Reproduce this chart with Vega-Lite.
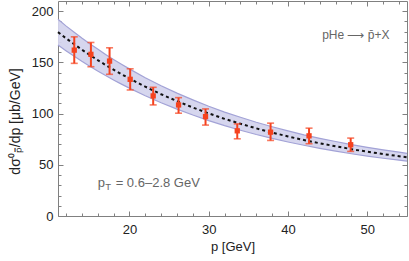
{
  "$schema": "https://vega.github.io/schema/vega-lite/v6.json",
  "width": 349,
  "height": 215,
  "autosize": {"type": "none"},
  "padding": {"left": 58, "top": 1, "right": 2, "bottom": 45},
  "background": "white",
  "config": {
    "view": {"stroke": null},
    "font": "Liberation Sans",
    "axis": {
      "grid": false,
      "domainColor": "#808080",
      "tickColor": "#808080",
      "labelColor": "#222222",
      "labelFontSize": 13,
      "labelFont": "Liberation Sans",
      "titleFont": "Liberation Sans",
      "titleFontSize": 13,
      "titleFontWeight": "normal",
      "titleColor": "#222222"
    }
  },
  "datasets": {
    "curve": [
      {"p": 11, "y": 179.6, "lo": 167.0, "hi": 192.2},
      {"p": 12, "y": 173.6, "lo": 161.5, "hi": 185.7},
      {"p": 13, "y": 168.0, "lo": 156.2, "hi": 179.8},
      {"p": 14, "y": 162.5, "lo": 151.1, "hi": 173.9},
      {"p": 15, "y": 157.3, "lo": 146.3, "hi": 168.3},
      {"p": 16, "y": 152.3, "lo": 141.6, "hi": 163.0},
      {"p": 17, "y": 147.5, "lo": 137.2, "hi": 157.8},
      {"p": 18, "y": 142.9, "lo": 132.9, "hi": 152.9},
      {"p": 19, "y": 138.5, "lo": 128.8, "hi": 148.2},
      {"p": 20, "y": 134.3, "lo": 124.9, "hi": 143.7},
      {"p": 22, "y": 126.3, "lo": 117.5, "hi": 135.1},
      {"p": 24, "y": 118.9, "lo": 110.6, "hi": 127.2},
      {"p": 26, "y": 112.2, "lo": 104.4, "hi": 120.0},
      {"p": 28, "y": 106.0, "lo": 98.6, "hi": 113.4},
      {"p": 30, "y": 100.2, "lo": 93.2, "hi": 107.2},
      {"p": 32, "y": 94.9, "lo": 88.3, "hi": 101.5},
      {"p": 34, "y": 90.1, "lo": 83.8, "hi": 96.4},
      {"p": 36, "y": 85.6, "lo": 79.6, "hi": 91.6},
      {"p": 38, "y": 81.5, "lo": 75.8, "hi": 87.2},
      {"p": 40, "y": 77.7, "lo": 72.3, "hi": 83.1},
      {"p": 42, "y": 74.2, "lo": 69.1, "hi": 79.3},
      {"p": 44, "y": 71.0, "lo": 66.1, "hi": 75.9},
      {"p": 46, "y": 68.1, "lo": 63.4, "hi": 72.8},
      {"p": 48, "y": 65.3, "lo": 60.8, "hi": 69.8},
      {"p": 50, "y": 62.8, "lo": 58.5, "hi": 67.1},
      {"p": 52, "y": 60.5, "lo": 56.4, "hi": 64.6},
      {"p": 54, "y": 58.4, "lo": 54.5, "hi": 62.3},
      {"p": 55, "y": 57.4, "lo": 53.6, "hi": 61.2}
    ],
    "pts": [
      {"p": 13.05, "y": 162.0, "lo": 149.1, "hi": 175.0},
      {"p": 15.15, "y": 157.9, "lo": 145.8, "hi": 169.5},
      {"p": 17.5, "y": 151.3, "lo": 138.4, "hi": 164.3},
      {"p": 20.1, "y": 133.5, "lo": 123.1, "hi": 143.8},
      {"p": 23.0, "y": 117.3, "lo": 108.5, "hi": 125.7},
      {"p": 26.2, "y": 108.5, "lo": 100.4, "hi": 115.6},
      {"p": 29.6, "y": 97.1, "lo": 88.8, "hi": 104.6},
      {"p": 33.6, "y": 83.2, "lo": 75.4, "hi": 90.0},
      {"p": 37.8, "y": 81.9, "lo": 73.8, "hi": 90.7},
      {"p": 42.65, "y": 78.3, "lo": 70.6, "hi": 85.8},
      {"p": 47.9, "y": 69.6, "lo": 63.1, "hi": 76.1}
    ],
    "one": [{"k": 1}]
  },
  "resolve": {"axis": {"x": "independent", "y": "independent"}},
  "layer": [
    {
      "data": {"name": "curve"},
      "mark": {"type": "area", "color": "#d4d4ed", "opacity": 0.95},
      "encoding": {
        "x": {"field": "p", "type": "quantitative", "scale": {"domain": [11, 55], "nice": false, "zero": false},
          "axis": {"orient": "bottom", "values": [12,14,16,18,20,22,24,26,28,30,32,34,36,38,40,42,44,46,48,50,52,54],
            "labelExpr": "datum.value % 10 === 0 ? datum.label : ''",
            "tickSize": {"condition": {"test": "datum.value % 10 === 0", "value": -5}, "value": -3},
            "labelPadding": 12, "title": "p [GeV]", "titlePadding": 4}},
        "y": {"field": "lo", "type": "quantitative", "scale": {"domain": [0, 210], "nice": false},
          "axis": {"orient": "left", "values": [0,10,20,30,40,50,60,70,80,90,100,110,120,130,140,150,160,170,180,190,200],
            "labelExpr": "datum.value % 50 === 0 ? datum.label : ''",
            "tickSize": {"condition": {"test": "datum.value % 50 === 0", "value": -5}, "value": -3},
            "labelPadding": 10, "title": "dσ⁰ₚ̄/dp  [μb/GeV]", "titleFontSize": 14, "titlePadding": 9, "titleY": 120}},
        "y2": {"field": "hi"}
      }
    },
    {
      "data": {"name": "curve"},
      "mark": {"type": "line", "color": "#a2a2d6", "strokeWidth": 1.2},
      "encoding": {
        "x": {"field": "p", "type": "quantitative", "scale": {"domain": [11, 55], "nice": false, "zero": false},
          "axis": {"orient": "top", "values": [12,14,16,18,20,22,24,26,28,30,32,34,36,38,40,42,44,46,48,50,52,54],
            "labels": false, "title": null,
            "tickSize": {"condition": {"test": "datum.value % 10 === 0", "value": -5}, "value": -3}}},
        "y": {"field": "lo", "type": "quantitative", "scale": {"domain": [0, 210], "nice": false},
          "axis": {"orient": "right", "values": [0,10,20,30,40,50,60,70,80,90,100,110,120,130,140,150,160,170,180,190,200],
            "labels": false, "title": null,
            "tickSize": {"condition": {"test": "datum.value % 50 === 0", "value": -5}, "value": -3}}}
      }
    },
    {
      "data": {"name": "curve"},
      "mark": {"type": "line", "color": "#a2a2d6", "strokeWidth": 1.2},
      "encoding": {
        "x": {"field": "p", "type": "quantitative", "scale": {"domain": [11, 55], "nice": false, "zero": false}, "axis": null},
        "y": {"field": "hi", "type": "quantitative", "scale": {"domain": [0, 210], "nice": false}, "axis": null}
      }
    },
    {
      "data": {"name": "curve"},
      "mark": {"type": "line", "color": "#111111", "strokeWidth": 2, "strokeDash": [3, 3]},
      "encoding": {
        "x": {"field": "p", "type": "quantitative", "scale": {"domain": [11, 55], "nice": false, "zero": false}, "axis": null},
        "y": {"field": "y", "type": "quantitative", "scale": {"domain": [0, 210], "nice": false}, "axis": null}
      }
    },
    {
      "data": {"name": "pts"},
      "mark": {"type": "rule", "color": "#f5421e", "strokeWidth": 2},
      "encoding": {
        "x": {"field": "p", "type": "quantitative", "scale": {"domain": [11, 55], "nice": false, "zero": false}, "axis": null},
        "y": {"field": "lo", "type": "quantitative", "scale": {"domain": [0, 210], "nice": false}, "axis": null},
        "y2": {"field": "hi"}
      }
    },
    {
      "data": {"name": "pts"},
      "mark": {"type": "tick", "orient": "horizontal", "color": "#f5421e", "size": 7, "thickness": 1.6},
      "encoding": {
        "x": {"field": "p", "type": "quantitative", "scale": {"domain": [11, 55], "nice": false, "zero": false}, "axis": null},
        "y": {"field": "lo", "type": "quantitative", "scale": {"domain": [0, 210], "nice": false}, "axis": null}
      }
    },
    {
      "data": {"name": "pts"},
      "mark": {"type": "tick", "orient": "horizontal", "color": "#f5421e", "size": 7, "thickness": 1.6},
      "encoding": {
        "x": {"field": "p", "type": "quantitative", "scale": {"domain": [11, 55], "nice": false, "zero": false}, "axis": null},
        "y": {"field": "hi", "type": "quantitative", "scale": {"domain": [0, 210], "nice": false}, "axis": null}
      }
    },
    {
      "data": {"name": "pts"},
      "mark": {"type": "square", "color": "#f5421e", "filled": true, "opacity": 1, "size": 28},
      "encoding": {
        "x": {"field": "p", "type": "quantitative", "scale": {"domain": [11, 55], "nice": false, "zero": false}, "axis": null},
        "y": {"field": "y", "type": "quantitative", "scale": {"domain": [0, 210], "nice": false}, "axis": null}
      }
    },
    {
      "data": {"name": "one"},
      "mark": {"type": "text", "text": "pHe ⟶ p̄+X", "align": "left", "baseline": "middle", "fontSize": 12, "color": "#666666", "font": "Liberation Sans"},
      "encoding": {
        "x": {"datum": 44.3, "type": "quantitative", "scale": {"domain": [11, 55], "nice": false, "zero": false}, "axis": null},
        "y": {"datum": 177, "type": "quantitative", "scale": {"domain": [0, 210], "nice": false}, "axis": null}
      }
    },
    {
      "data": {"name": "one"},
      "mark": {"type": "text", "text": "p", "align": "left", "baseline": "middle", "fontSize": 13, "color": "#666666", "font": "Liberation Sans"},
      "encoding": {
        "x": {"datum": 16.0, "type": "quantitative", "scale": {"domain": [11, 55], "nice": false, "zero": false}, "axis": null},
        "y": {"datum": 32.5, "type": "quantitative", "scale": {"domain": [0, 210], "nice": false}, "axis": null}
      }
    },
    {
      "data": {"name": "one"},
      "mark": {"type": "text", "text": "T", "align": "left", "baseline": "middle", "fontSize": 9.5, "dx": 7.5, "dy": 4, "color": "#666666", "font": "Liberation Sans"},
      "encoding": {
        "x": {"datum": 16.0, "type": "quantitative", "scale": {"domain": [11, 55], "nice": false, "zero": false}, "axis": null},
        "y": {"datum": 32.5, "type": "quantitative", "scale": {"domain": [0, 210], "nice": false}, "axis": null}
      }
    },
    {
      "data": {"name": "one"},
      "mark": {"type": "text", "text": "= 0.6–2.8 GeV", "align": "left", "baseline": "middle", "fontSize": 13, "color": "#666666", "font": "Liberation Sans", "dx": 18},
      "encoding": {
        "x": {"datum": 16.0, "type": "quantitative", "scale": {"domain": [11, 55], "nice": false, "zero": false}, "axis": null},
        "y": {"datum": 32.5, "type": "quantitative", "scale": {"domain": [0, 210], "nice": false}, "axis": null}
      }
    }
  ]
}
